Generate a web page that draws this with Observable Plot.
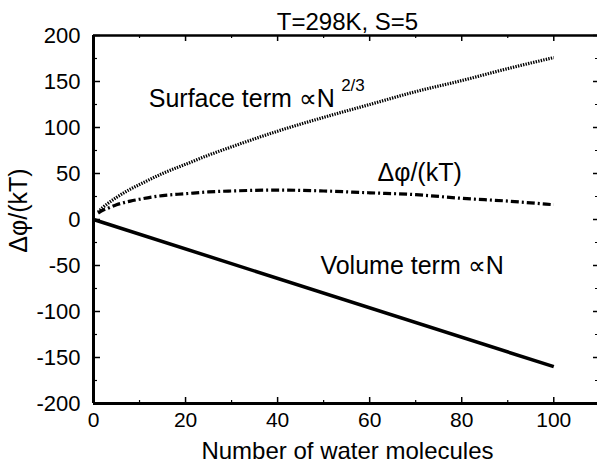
<!DOCTYPE html>
<html><head><meta charset="utf-8">
<script src="https://cdn.jsdelivr.net/npm/d3@7"></script>
<script src="https://cdn.jsdelivr.net/npm/@observablehq/plot@0.6"></script>
<style>
body{margin:0;background:#fff}
svg{font-family:"Liberation Sans",Arial,Helvetica,sans-serif}
</style>
</head><body><div id="chart"></div>
<script>
const title = "T=298K, S=5";
const xLabel = "Number of water molecules";
const yLabel = "Δφ/(kT)";
const surfaceLabel = "Surface term ∝N";
const surfaceSup = "2/3";
const totalLabel = "Δφ/(kT)";
const volumeLabel = "Volume term ∝N";

const N = [1, 2, 3, 5, 8, 10, 15, 20, 25, 30, 40, 50, 60, 70, 80, 90, 100];
const surface = [8, 13, 17, 24, 33, 38, 50, 60, 70, 79, 96, 111, 125, 139, 151, 164, 176];
const total = [7, 10, 12, 16, 20, 22, 26, 28, 30, 31, 32, 31, 29, 27, 23, 20, 16];
const volN = [0, 100];
const volume = [0, -160];

const xTicks = [0, 20, 40, 60, 80, 100];
const xMinor = [10, 30, 50, 70, 90];
const yTicks = [-200, -150, -100, -50, 0, 50, 100, 150, 200];
const yMinor = [-175, -125, -75, -25, 25, 75, 125, 175];

const W = 597, H = 464, mL = 93, mR = 0, mT = 35, mB = 61;
const pw = W - mL - mR, ph = H - mT - mB;

const surfData = N.map((n, i) => ({n, v: surface[i]}));
const totData = N.map((n, i) => ({n, v: total[i]}));
const volData = volN.map((n, i) => ({n, v: volume[i]}));

const chart = Plot.plot({
  width: W, height: H,
  marginLeft: mL, marginRight: mR, marginTop: mT, marginBottom: mB,
  x: {domain: [0, 109.5], axis: null},
  y: {domain: [-200, 200], axis: null},
  style: {fontFamily: '"Liberation Sans", Arial, sans-serif', color: "black", background: "white"},
  marks: [
    // frame
    Plot.ruleY([200], {stroke: "black", strokeWidth: 2.5}),
    Plot.ruleY([-200], {stroke: "black", strokeWidth: 3}),
    Plot.ruleX([0], {stroke: "black", strokeWidth: 3}),
    // x ticks bottom and top
    Plot.ruleX(xTicks, {insetTop: ph - 6, stroke: "black", strokeWidth: 1.5}),
    Plot.ruleX(xTicks, {insetBottom: ph - 6, stroke: "black", strokeWidth: 1.5}),
    Plot.ruleX(xMinor, {insetTop: ph - 3, stroke: "black", strokeWidth: 1.2}),
    Plot.ruleX(xMinor, {insetBottom: ph - 3, stroke: "black", strokeWidth: 1.2}),
    // y ticks left and right
    Plot.ruleY(yTicks, {insetRight: pw - 7, stroke: "black", strokeWidth: 1.5}),
    Plot.ruleY(yTicks, {insetLeft: pw - 4, stroke: "black", strokeWidth: 1.5}),
    Plot.ruleY(yMinor, {insetRight: pw - 4, stroke: "black", strokeWidth: 1.2}),
    Plot.ruleY(yMinor, {insetLeft: pw - 2, stroke: "black", strokeWidth: 1.2}),
    // tick labels
    Plot.axisX({ticks: xTicks, tickSize: 0, tickPadding: 9, fontSize: 21, label: null, tickFormat: d => String(d)}),
    Plot.axisY({ticks: yTicks, tickSize: 0, tickPadding: 13, fontSize: 22, label: null, tickFormat: d => String(d)}),
    // curves
    Plot.line(volData, {x: "n", y: "v", stroke: "black", strokeWidth: 3.5, strokeLinecap: "butt"}),
    Plot.line(surfData, {x: "n", y: "v", stroke: "black", strokeWidth: 3.2, strokeDasharray: "1.4,1.2", strokeLinecap: "butt", curve: "monotone-x"}),
    Plot.line(totData, {x: "n", y: "v", stroke: "black", strokeWidth: 3.2, strokeDasharray: "8,3,2,3", strokeLinecap: "butt", curve: "monotone-x"}),
    // annotations
    Plot.text([surfaceLabel], {x: 12, y: 131, text: d => d, textAnchor: "start", fontSize: 25}),
    Plot.text([surfaceSup], {x: 53.8, y: 146, text: d => d, textAnchor: "start", fontSize: 17}),
    Plot.text([totalLabel], {x: 61.7, y: 51, text: d => d, textAnchor: "start", fontSize: 25}),
    Plot.text([volumeLabel], {x: 49.3, y: -51, text: d => d, textAnchor: "start", fontSize: 25}),
    // title and axis labels
    Plot.text([title], {frameAnchor: "top", dx: 2, dy: -23, text: d => d, fontSize: 24}),
    Plot.text([xLabel], {frameAnchor: "bottom", dx: 2, dy: 55, text: d => d, fontSize: 24}),
    Plot.text([yLabel], {frameAnchor: "left", textAnchor: "middle", dx: -75, dy: -9, rotate: -90, text: d => d, fontSize: 25})
  ]
});
document.getElementById("chart").appendChild(chart);
</script>
</body></html>
